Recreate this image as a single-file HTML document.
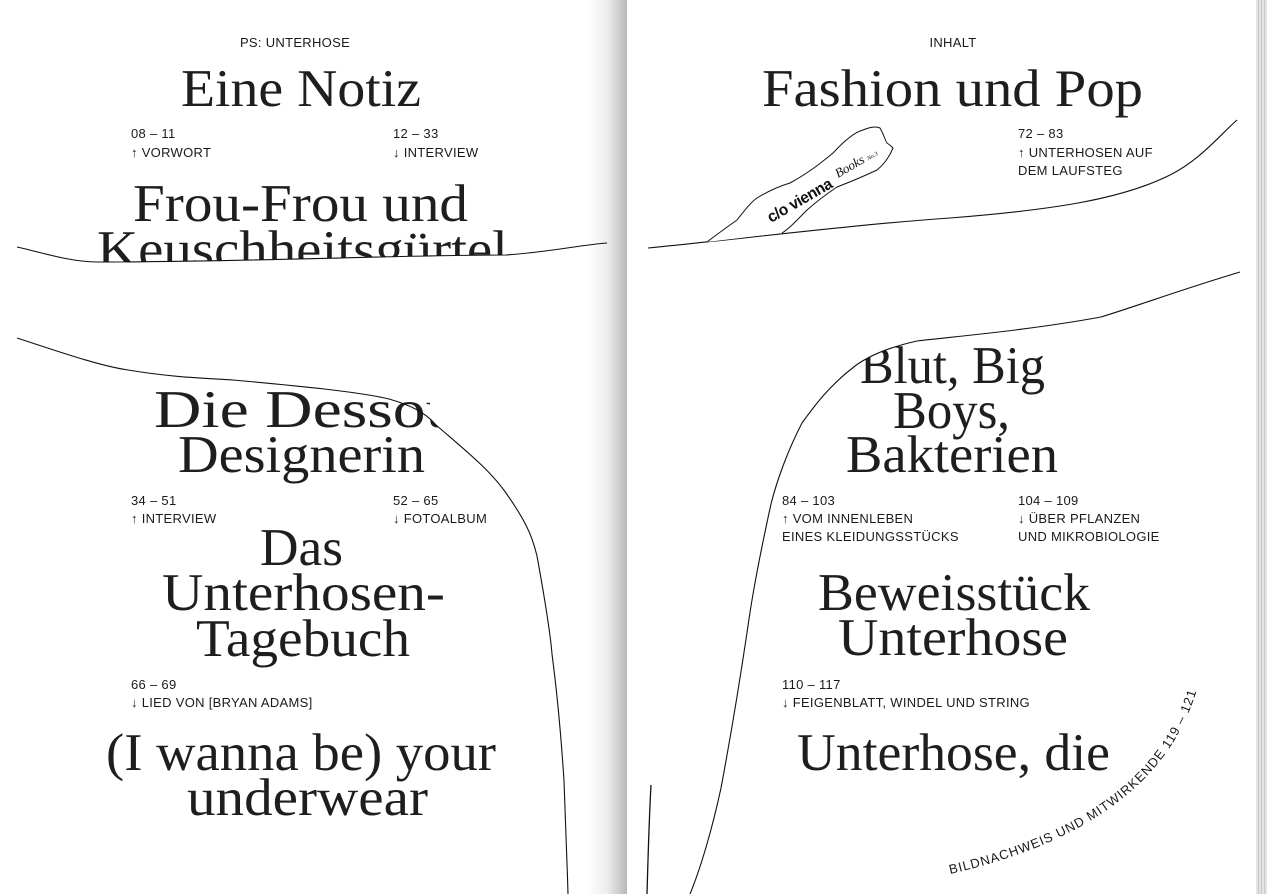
<!DOCTYPE html>
<html><head><meta charset="utf-8"><style>
html,body{margin:0;padding:0;background:#fff}
svg{display:block}
.h{font-family:"Liberation Serif",serif;font-size:53px;fill:#1e1e1e}
.s{font-family:"Liberation Sans",sans-serif;font-size:13px;fill:#1a1a1a;letter-spacing:0.3px}
</style></head><body>
<svg width="1267" height="894" viewBox="0 0 1267 894" xmlns="http://www.w3.org/2000/svg">
<defs>
<linearGradient id="g" x1="0" x2="1" y1="0" y2="0">
<stop offset="0" stop-color="#fff"/><stop offset="0.5" stop-color="#ececec"/><stop offset="1" stop-color="#b8b8b8"/>
</linearGradient>
</defs>
<rect width="1267" height="894" fill="#fff"/>

<!-- LEFT PAGE -->
<text class="s" x="295" y="47" text-anchor="middle">PS: UNTERHOSE</text>
<text class="h" x="181" y="106" textLength="240" lengthAdjust="spacingAndGlyphs">Eine Notiz</text>
<text class="s" x="131" y="138">08 – 11</text>
<text class="s" x="131" y="157">↑ VORWORT</text>
<text class="s" x="393" y="138">12 – 33</text>
<text class="s" x="393" y="157">↓ INTERVIEW</text>
<text class="h" x="133" y="221" textLength="335" lengthAdjust="spacingAndGlyphs">Frou-Frou und</text>
<text class="h" x="97" y="267" textLength="411" lengthAdjust="spacingAndGlyphs">Keuschheitsgürtel</text>
<path d="M0,244 C40,252 70,262 97,262 C250,262 400,255 506,255 C550,252 580,245 607,243 L607,320 L0,320 Z" fill="#fff"/>

<text class="h" x="154" y="427" textLength="330" lengthAdjust="spacingAndGlyphs">Die Dessous</text>
<text class="h" x="178" y="472" textLength="247" lengthAdjust="spacingAndGlyphs">Designerin</text>
<path d="M430,419 C432,421 434,423 436,425 C465,450 490,470 506,493 C525,520 532,535 537,556 C545,600 550,630 552,654 C558,700 562,750 564,781 C566,830 567,860 568,894 L600,894 L600,380 L430,380 Z" fill="#fff"/>

<!-- GUTTER -->
<rect x="588" y="0" width="39" height="894" fill="url(#g)"/>

<path d="M17,247 C40,252 70,262 97,262 C250,262 400,255 506,255 C550,252 580,245 607,243" fill="none" stroke="#111" stroke-width="1.1"/>
<path d="M17,338 C60,352 100,366 128,370 C170,377 200,378 233,380 C300,386 360,392 389,399 C410,405 425,412 436,425 C465,450 490,470 506,493 C525,520 532,535 537,556 C545,600 550,630 552,654 C558,700 562,750 564,781 C566,830 567,860 568,894" fill="none" stroke="#111" stroke-width="1.1"/>

<text class="s" x="131" y="505">34 – 51</text>
<text class="s" x="131" y="523">↑ INTERVIEW</text>
<text class="s" x="393" y="505">52 – 65</text>
<text class="s" x="393" y="523">↓ FOTOALBUM</text>
<text class="h" x="260" y="565" textLength="83" lengthAdjust="spacingAndGlyphs">Das</text>
<text class="h" x="162" y="610" textLength="283" lengthAdjust="spacingAndGlyphs">Unterhosen-</text>
<text class="h" x="196" y="656" textLength="214" lengthAdjust="spacingAndGlyphs">Tagebuch</text>
<text class="s" x="131" y="689">66 – 69</text>
<text class="s" x="131" y="707">↓ LIED VON [BRYAN ADAMS]</text>
<text class="h" x="106" y="770" textLength="390" lengthAdjust="spacingAndGlyphs">(I wanna be) your</text>
<text class="h" x="187" y="815" textLength="241" lengthAdjust="spacingAndGlyphs">underwear</text>

<!-- RIGHT PAGE -->
<text class="s" x="953" y="47" text-anchor="middle">INHALT</text>
<text class="h" x="762" y="106" textLength="381" lengthAdjust="spacingAndGlyphs">Fashion und Pop</text>
<text class="s" x="1018" y="138">72 – 83</text>
<text class="s" x="1018" y="157">↑ UNTERHOSEN AUF</text>
<text class="s" x="1018" y="175">DEM LAUFSTEG</text>
<path d="M648,248 C750,238 850,225 950,218 C1050,210 1120,200 1170,175 C1200,160 1220,135 1237,120" fill="none" stroke="#111" stroke-width="1.1"/>
<path d="M707,242 C720,232 730,225 737,220 C745,210 750,203 757,198 C770,190 780,186 790,183 C810,172 822,162 833,153 C845,140 855,132 863,130 C870,127 876,126 880,128 C884,135 885,140 887,143 C890,145 892,147 893,148 C888,160 882,166 877,170 C860,178 850,182 837,187 C825,195 815,203 807,210 C797,220 790,228 782,233" fill="#fff" stroke="#111" stroke-width="1"/>
<text x="0" y="0" transform="translate(771,223) rotate(-30)" font-family="Liberation Sans,sans-serif" font-weight="bold" font-size="16" fill="#111" letter-spacing="-0.5" textLength="72" lengthAdjust="spacingAndGlyphs">c/o vienna</text>
<text x="0" y="0" transform="translate(838,178) rotate(-30)" font-family="Liberation Serif,serif" font-style="italic" font-size="13" fill="#111">Books <tspan font-size="6">No.3</tspan></text>

<text class="h" x="860" y="383" textLength="185" lengthAdjust="spacingAndGlyphs">Blut, Big</text>
<text class="h" x="893" y="428" textLength="117" lengthAdjust="spacingAndGlyphs">Boys,</text>
<text class="h" x="846" y="472" textLength="212" lengthAdjust="spacingAndGlyphs">Bakterien</text>
<path d="M1240,272 C1180,290 1140,305 1101,317 C1030,330 960,336 917,341 C890,347 870,355 855,366 C830,385 815,405 802,423 L780,423 L780,290 L1240,260 Z" fill="#fff"/>
<path d="M1240,272 C1180,290 1140,305 1101,317 C1030,330 960,336 917,341 C890,347 870,355 855,366 C830,385 815,405 802,423 C788,450 777,480 771,504 C762,545 753,590 748,626 C740,680 730,740 721,788 C712,830 700,870 690,894" fill="none" stroke="#111" stroke-width="1.1"/>
<path d="M651,785 C649,820 648,860 647,894" fill="none" stroke="#111" stroke-width="1.3"/>

<text class="s" x="782" y="505">84 – 103</text>
<text class="s" x="782" y="523">↑ VOM INNENLEBEN</text>
<text class="s" x="782" y="541">EINES KLEIDUNGSSTÜCKS</text>
<text class="s" x="1018" y="505">104 – 109</text>
<text class="s" x="1018" y="523">↓ ÜBER PFLANZEN</text>
<text class="s" x="1018" y="541">UND MIKROBIOLOGIE</text>
<text class="h" x="818" y="610" textLength="272" lengthAdjust="spacingAndGlyphs">Beweisstück</text>
<text class="h" x="838" y="655" textLength="230" lengthAdjust="spacingAndGlyphs">Unterhose</text>
<text class="s" x="782" y="689">110 – 117</text>
<text class="s" x="782" y="707">↓ FEIGENBLATT, WINDEL UND STRING</text>
<text class="h" x="797" y="770" textLength="313" lengthAdjust="spacingAndGlyphs">Unterhose, die</text>

<path id="arc" d="M950,874 Q1165,825 1200,678" fill="none"/>
<text class="s" font-size="13"><textPath href="#arc" textLength="322">BILDNACHWEIS UND MITWIRKENDE 119 – 121</textPath></text>

<!-- right edge pages -->
<rect x="1256" y="0" width="11" height="894" fill="#e4e4e4"/>
<rect x="1258" y="0" width="1" height="894" fill="#c4c4c4"/>
<rect x="1261" y="0" width="1" height="894" fill="#c8c8c8"/>
<rect x="1264" y="0" width="1" height="894" fill="#c8c8c8"/>
</svg>
</body></html>
